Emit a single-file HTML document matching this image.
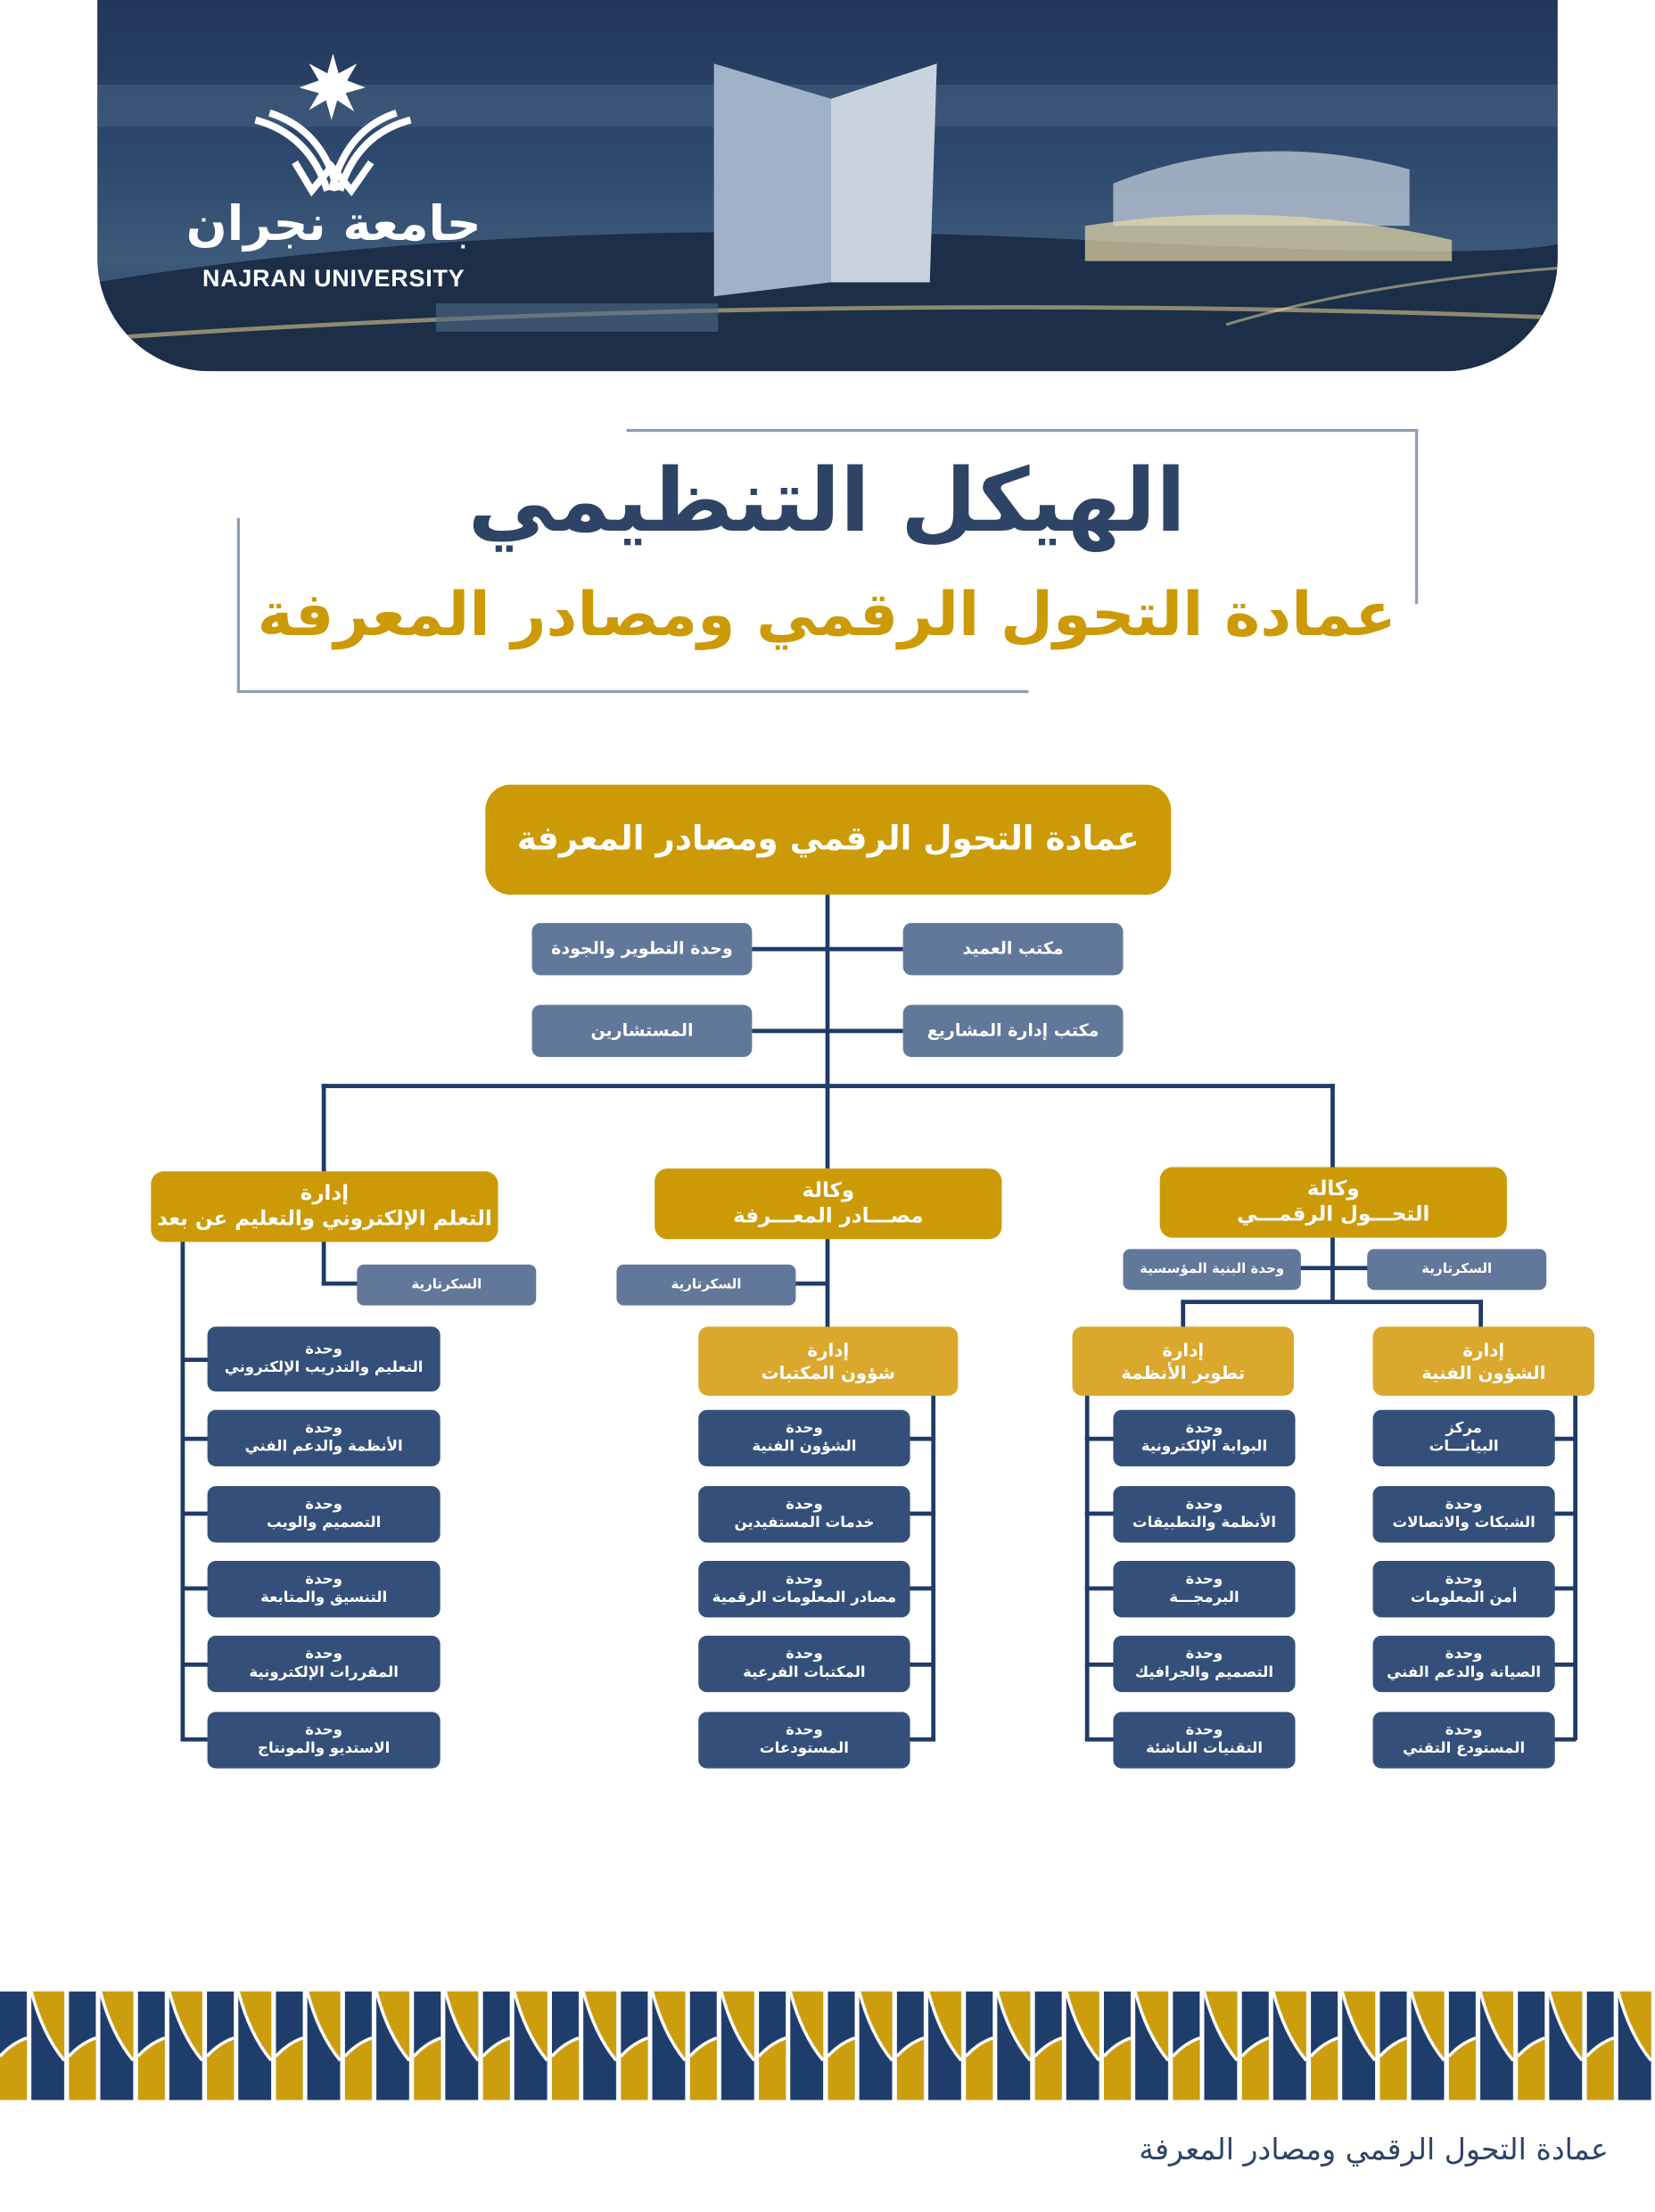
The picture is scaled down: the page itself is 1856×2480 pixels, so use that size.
<!DOCTYPE html>
<html><head><meta charset="utf-8">
<style>
html,body{margin:0;padding:0;background:#fff;}
#w{position:relative;width:1856px;height:2480px;overflow:hidden;}
#c{position:absolute;left:0;top:0;width:1173px;height:1568px;transform:scale(1.5823);transform-origin:0 0;font-family:"DejaVu Sans","Liberation Sans",sans-serif;}
.b{position:absolute;display:flex;flex-direction:column;align-items:center;justify-content:center;color:#fff;font-weight:bold;direction:rtl;text-align:center;line-height:1.25;box-sizing:border-box;white-space:nowrap;}
.g{background:#CC9A06;border-radius:9px;font-size:14.5px;}
.g2{background:#D9A82C;border-radius:7px;font-size:12.5px;}
.s{background:#62789A;border-radius:6px;font-size:12px;}
.s2{background:#62789A;border-radius:5px;font-size:9.5px;}
.u{background:#34507A;border-radius:6px;font-size:10.5px;}
.l{position:absolute;background:#1F3B68;}
</style></head><body><div id="w"><div id="c">

<!-- header -->
<div style="position:absolute;left:69px;top:0;width:1035px;height:263px;border-radius:0 0 80px 80px;overflow:hidden;background:linear-gradient(180deg,#22365a 0%,#2e4a6e 45%,#3d5a7a 70%,#2a3f5e 100%);">
<svg width="1035" height="263" style="position:absolute;left:0;top:0">
<rect x="0" y="60" width="1035" height="30" fill="#4a6585" opacity="0.5"/>
<path d="M0 200 Q300 150 700 170 T1035 160 L1035 263 L0 263Z" fill="#1c2e48"/>
<path d="M437 45 L520 70 L520 200 L437 210Z" fill="#9fb2c8"/>
<path d="M520 70 L595 45 L590 200 L520 200Z" fill="#c9d3dd"/>
<path d="M720 130 Q820 90 930 120 L930 160 L720 160Z" fill="#b8c4d2" opacity="0.8"/>
<path d="M700 160 Q830 140 960 170 L960 185 L700 185Z" fill="#e8d9a8" opacity="0.7"/>
<path d="M0 240 Q500 205 1035 225" stroke="#d8c890" stroke-width="3" fill="none" opacity="0.6"/>
<path d="M800 230 Q900 200 1035 190" stroke="#f0e0a0" stroke-width="2" fill="none" opacity="0.5"/>
<rect x="240" y="215" width="200" height="20" fill="#506b87" opacity="0.6"/>
<polygon points="167,38 171,52 184,45 177,57 190,62 176,66 182,79 170,71 166,85 162,71 150,78 157,66 143,62 157,57 150,45 163,52" fill="#fff"/>
<path d="M112 85 Q150 95 163 135 M122 80 Q160 92 170 135 M222 85 Q184 95 172 135 M212 80 Q176 92 166 135" stroke="#fff" stroke-width="5" fill="none"/>
<path d="M140 115 L152 135 L166 118 L180 135 L194 115" stroke="#fff" stroke-width="5" fill="none"/>
</svg>
<div style="position:absolute;left:40px;top:142px;width:255px;text-align:center;color:#fff;font-weight:bold;font-size:34px;direction:rtl;line-height:1;white-space:nowrap">جامعة نجران</div>
<div style="position:absolute;left:50px;top:188px;width:235px;text-align:center;color:#fff;font-weight:bold;font-size:17px;font-family:'Liberation Sans',sans-serif;letter-spacing:0.5px;white-space:nowrap">NAJRAN UNIVERSITY</div>
</div>

<!-- title frame -->
<div style="position:absolute;left:444px;top:304px;width:561px;height:2px;background:#8E9CB4"></div>
<div style="position:absolute;left:1003px;top:304px;width:2px;height:124px;background:#8E9CB4"></div>
<div style="position:absolute;left:168px;top:367px;width:2px;height:124px;background:#8E9CB4"></div>
<div style="position:absolute;left:168px;top:489px;width:561px;height:2px;background:#8E9CB4"></div>
<div style="position:absolute;left:250px;top:315px;width:672px;text-align:center;direction:rtl;font-weight:bold;font-size:62px;color:#2E4466;line-height:80px;white-space:nowrap">الهيكل التنظيمي</div>
<div style="position:absolute;left:170px;top:405px;width:832px;text-align:center;direction:rtl;font-weight:bold;font-size:43px;color:#CC9A06;line-height:62px;white-space:nowrap">عمادة التحول الرقمي ومصادر المعرفة</div>

<!-- lines -->
<div class="l" style="left:585px;top:632px;width:3px;height:140px"></div>
<div class="l" style="left:533px;top:671px;width:107px;height:3px"></div>
<div class="l" style="left:533px;top:729px;width:107px;height:3px"></div>
<div class="l" style="left:228px;top:768px;width:718px;height:3px"></div>
<div class="l" style="left:228px;top:768px;width:3px;height:62px"></div>
<div class="l" style="left:585px;top:768px;width:3px;height:60px"></div>
<div class="l" style="left:943px;top:768px;width:3px;height:60px"></div>
<div class="l" style="left:228px;top:878px;width:3px;height:33px"></div>
<div class="l" style="left:228px;top:908px;width:26px;height:3px"></div>
<div class="l" style="left:128px;top:878px;width:3px;height:355px"></div>
<div class="l" style="left:585px;top:876px;width:3px;height:66px"></div>
<div class="l" style="left:562px;top:908px;width:25px;height:3px"></div>
<div class="l" style="left:660px;top:986px;width:3px;height:247px"></div>
<div class="l" style="left:943px;top:876px;width:3px;height:48px"></div>
<div class="l" style="left:920px;top:897px;width:50px;height:3px"></div>
<div class="l" style="left:837px;top:921px;width:214px;height:3px"></div>
<div class="l" style="left:837px;top:921px;width:3px;height:20px"></div>
<div class="l" style="left:1048px;top:921px;width:3px;height:20px"></div>
<div class="l" style="left:769px;top:986px;width:3px;height:247px"></div>
<div class="l" style="left:1115px;top:986px;width:3px;height:247px"></div>

<div class="l" style="left:128px;top:962px;width:20px;height:3px"></div>
<div class="l" style="left:128px;top:1018px;width:20px;height:3px"></div>
<div class="l" style="left:128px;top:1071px;width:20px;height:3px"></div>
<div class="l" style="left:128px;top:1124px;width:20px;height:3px"></div>
<div class="l" style="left:128px;top:1178px;width:20px;height:3px"></div>
<div class="l" style="left:128px;top:1231px;width:20px;height:3px"></div>
<div class="l" style="left:643px;top:1018px;width:20px;height:3px"></div>
<div class="l" style="left:643px;top:1071px;width:20px;height:3px"></div>
<div class="l" style="left:643px;top:1124px;width:20px;height:3px"></div>
<div class="l" style="left:643px;top:1178px;width:20px;height:3px"></div>
<div class="l" style="left:643px;top:1231px;width:20px;height:3px"></div>
<div class="l" style="left:769px;top:1018px;width:21px;height:3px"></div>
<div class="l" style="left:769px;top:1071px;width:21px;height:3px"></div>
<div class="l" style="left:769px;top:1124px;width:21px;height:3px"></div>
<div class="l" style="left:769px;top:1178px;width:21px;height:3px"></div>
<div class="l" style="left:769px;top:1231px;width:21px;height:3px"></div>
<div class="l" style="left:1100px;top:1018px;width:17px;height:3px"></div>
<div class="l" style="left:1100px;top:1071px;width:17px;height:3px"></div>
<div class="l" style="left:1100px;top:1124px;width:17px;height:3px"></div>
<div class="l" style="left:1100px;top:1178px;width:17px;height:3px"></div>
<div class="l" style="left:1100px;top:1231px;width:17px;height:3px"></div>

<div class="b" style="left:344px;top:556px;width:486px;height:78px;background:#CC9A06;border-radius:18px;font-size:23.5px">عمادة التحول الرقمي ومصادر المعرفة</div>
<div class="b s" style="left:377px;top:654px;width:156px;height:37px">وحدة التطوير والجودة</div>
<div class="b s" style="left:640px;top:654px;width:156px;height:37px">مكتب العميد</div>
<div class="b s" style="left:377px;top:712px;width:156px;height:37px">المستشارين</div>
<div class="b s" style="left:640px;top:712px;width:156px;height:37px">مكتب إدارة المشاريع</div>

<div class="b g" style="left:107px;top:830px;width:246px;height:50px"><div>إدارة</div><div>التعلم الإلكتروني والتعليم عن بعد</div></div>
<div class="b g" style="left:464px;top:828px;width:246px;height:50px"><div>وكالة</div><div>مصـــادر المعـــرفة</div></div>
<div class="b g" style="left:822px;top:827px;width:246px;height:50px"><div>وكالة</div><div>التحـــول الرقمـــي</div></div>

<div class="b s2" style="left:253px;top:896px;width:127px;height:29px">السكرتارية</div>
<div class="b s2" style="left:437px;top:896px;width:127px;height:29px">السكرتارية</div>
<div class="b s2" style="left:796px;top:885px;width:126px;height:29px">وحدة البنية المؤسسية</div>
<div class="b s2" style="left:969px;top:885px;width:127px;height:29px">السكرتارية</div>

<div class="b g2" style="left:495px;top:940px;width:184px;height:49px"><div>إدارة</div><div>شؤون المكتبات</div></div>
<div class="b g2" style="left:760px;top:940px;width:157px;height:49px"><div>إدارة</div><div>تطوير الأنظمة</div></div>
<div class="b g2" style="left:973px;top:940px;width:157px;height:49px"><div>إدارة</div><div>الشؤون الفنية</div></div>

<div class="b u" style="left:147px;top:940px;width:165px;height:46px"><div>وحدة</div><div>التعليم والتدريب الإلكتروني</div></div>
<div class="b u" style="left:147px;top:999px;width:165px;height:40px"><div>وحدة</div><div>الأنظمة والدعم الفني</div></div>
<div class="b u" style="left:147px;top:1053px;width:165px;height:40px"><div>وحدة</div><div>التصميم والويب</div></div>
<div class="b u" style="left:147px;top:1106px;width:165px;height:40px"><div>وحدة</div><div>التنسيق والمتابعة</div></div>
<div class="b u" style="left:147px;top:1159px;width:165px;height:40px"><div>وحدة</div><div>المقررات الإلكترونية</div></div>
<div class="b u" style="left:147px;top:1213px;width:165px;height:40px"><div>وحدة</div><div>الاستديو والمونتاج</div></div>
<div class="b u" style="left:495px;top:999px;width:150px;height:40px"><div>وحدة</div><div>الشؤون الفنية</div></div>
<div class="b u" style="left:495px;top:1053px;width:150px;height:40px"><div>وحدة</div><div>خدمات المستفيدين</div></div>
<div class="b u" style="left:495px;top:1106px;width:150px;height:40px"><div>وحدة</div><div>مصادر المعلومات الرقمية</div></div>
<div class="b u" style="left:495px;top:1159px;width:150px;height:40px"><div>وحدة</div><div>المكتبات الفرعية</div></div>
<div class="b u" style="left:495px;top:1213px;width:150px;height:40px"><div>وحدة</div><div>المستودعات</div></div>
<div class="b u" style="left:789px;top:999px;width:129px;height:40px"><div>وحدة</div><div>البوابة الإلكترونية</div></div>
<div class="b u" style="left:789px;top:1053px;width:129px;height:40px"><div>وحدة</div><div>الأنظمة والتطبيقات</div></div>
<div class="b u" style="left:789px;top:1106px;width:129px;height:40px"><div>وحدة</div><div>البرمجـــة</div></div>
<div class="b u" style="left:789px;top:1159px;width:129px;height:40px"><div>وحدة</div><div>التصميم والجرافيك</div></div>
<div class="b u" style="left:789px;top:1213px;width:129px;height:40px"><div>وحدة</div><div>التقنيات الناشئة</div></div>
<div class="b u" style="left:973px;top:999px;width:129px;height:40px"><div>مركز</div><div>البيانـــات</div></div>
<div class="b u" style="left:973px;top:1053px;width:129px;height:40px"><div>وحدة</div><div>الشبكات والاتصالات</div></div>
<div class="b u" style="left:973px;top:1106px;width:129px;height:40px"><div>وحدة</div><div>أمن المعلومات</div></div>
<div class="b u" style="left:973px;top:1159px;width:129px;height:40px"><div>وحدة</div><div>الصيانة والدعم الفني</div></div>
<div class="b u" style="left:973px;top:1213px;width:129px;height:40px"><div>وحدة</div><div>المستودع التقني</div></div>

<svg style="position:absolute;left:0;top:1411px" width="1173" height="78">
<defs><pattern id="p" x="0" y="0" width="48.9" height="78" patternUnits="userSpaceOnUse">
<rect x="0" y="0" width="19" height="78" fill="#1F3D6B"/>
<path d="M0 46 Q8 37 19 33 L19 78 L0 78Z" fill="#CC9D0C"/>
<rect x="22.2" y="0" width="23.3" height="78" fill="#1F3D6B"/>
<path d="M22.2 0 Q30 30 45.5 49 L45.5 0Z" fill="#CC9D0C"/>
<path d="M22.2 0 Q30 30 45.5 49 M0 46 Q8 37 19 33 M45.5 49 L48.9 46" stroke="#fff" stroke-width="2.2" fill="none"/>
</pattern></defs>
<rect x="0" y="0" width="1173" height="77" fill="url(#p)"/>
</svg>

<div style="position:absolute;left:600px;top:1508px;width:540px;text-align:right;direction:rtl;color:#2E4466;font-size:21px;line-height:30px;white-space:nowrap">عمادة التحول الرقمي ومصادر المعرفة</div>

</div></div></body></html>
